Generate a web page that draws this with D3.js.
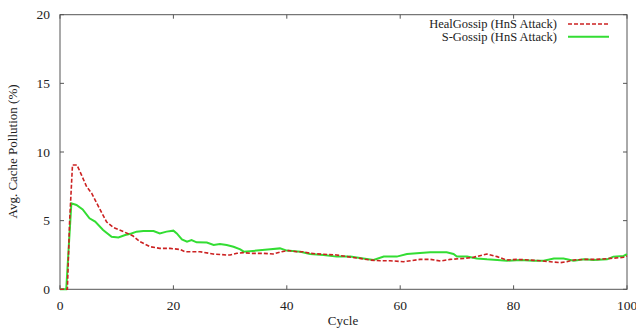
<!DOCTYPE html>
<html><head><meta charset="utf-8">
<script src="https://cdn.jsdelivr.net/npm/d3@7"></script>
<style>body{margin:0;background:#fff}svg{display:block}</style>
</head><body>
<svg id="c" width="636" height="328"></svg>
<script>
const xTicks = [0,20,40,60,80,100];
const yTicks = [0,5,10,15,20];
const seriesNames = ["HealGossip (HnS Attack)", "S-Gossip (HnS Attack)"];
const healCycles = [0,1.3,1.7,2.2,3,3.8,4.7,5.6,6.2,7.1,8.2,9.4,11.2,12.9,14.1,15.9,17.6,19.4,21.2,22,24.7,27,29.4,30,31.2,32.4,33.5,35.9,37.6,39.1,40.3,41.8,42.9,44.1,46.5,48.8,50.6,52.9,54.7,56.5,58.2,60.6,63.5,65.3,67.1,68.8,71.2,72.9,75.3,77.1,78.8,80.6,82.9,84.7,86.5,88.2,89.4,90.6,92.4,94.7,97.1,99.4,100];
const healValues = [0,0,5,9.05,9.05,8.32,7.47,6.99,6.5,5.78,4.92,4.51,4.2,3.88,3.47,3.1,2.98,2.98,2.9,2.74,2.74,2.57,2.5,2.5,2.62,2.67,2.62,2.62,2.57,2.74,2.82,2.74,2.74,2.62,2.55,2.5,2.38,2.25,2.13,2.08,2.08,2.01,2.18,2.18,2.06,2.18,2.25,2.33,2.57,2.38,2.13,2.18,2.13,2.08,2.01,1.94,2.01,2.13,2.18,2.18,2.25,2.33,2.43];
const sCycles = [0,1.1,2,2.9,4.0,5.2,6.2,7.6,9.1,10.3,11.5,12.6,13.5,14.7,16.5,17.6,18.8,20,20.6,21.5,22.4,23.2,24.1,25.9,27.1,28.2,29.4,30.6,31.8,32.4,34.7,37.1,38.8,40,42.4,44.1,46.5,48.8,51.2,53.5,55.3,57.1,59.4,61.2,63.5,65.3,68.2,69.4,70,71.8,73.5,75.3,77.1,78.8,81.2,83.5,85.3,87.1,88.8,90.6,92.4,94.1,96.5,97.6,99.4,100];
const sValues = [0,0,6.26,6.14,5.82,5.17,4.93,4.32,3.83,3.78,3.95,4.07,4.2,4.25,4.25,4.07,4.2,4.27,4.07,3.64,3.47,3.59,3.42,3.4,3.23,3.3,3.23,3.1,2.91,2.74,2.82,2.91,2.98,2.82,2.74,2.57,2.5,2.38,2.38,2.25,2.13,2.38,2.38,2.57,2.65,2.69,2.69,2.57,2.38,2.38,2.25,2.18,2.13,2.08,2.13,2.08,2.08,2.25,2.25,2.08,2.18,2.13,2.18,2.38,2.43,2.57];

const svg = d3.select("#c");
const L = 60, R = 627, T = 14.7, B = 289.3;
const x = d3.scaleLinear().domain([0,100]).range([L,R]);
const y = d3.scaleLinear().domain([0,20]).range([B,T]);
const FONT = "Liberation Serif";
const frameCol = "#555";
const txtCol = "#222";

svg.append("rect").attr("x",L).attr("y",T).attr("width",R-L).attr("height",B-T)
  .attr("fill","none").attr("stroke",frameCol).attr("stroke-width",1);

const tl = 4;
const g = svg.append("g").attr("stroke",frameCol).attr("stroke-width",1);
xTicks.forEach(t => {
  g.append("line").attr("x1",x(t)).attr("x2",x(t)).attr("y1",B).attr("y2",B-tl);
  g.append("line").attr("x1",x(t)).attr("x2",x(t)).attr("y1",T).attr("y2",T+tl);
});
yTicks.forEach(t => {
  g.append("line").attr("x1",L).attr("x2",L+tl).attr("y1",y(t)).attr("y2",y(t));
  g.append("line").attr("x1",R).attr("x2",R-tl).attr("y1",y(t)).attr("y2",y(t));
});

svg.append("g").selectAll("text").data(xTicks).join("text")
  .attr("x",d=>x(d)).attr("y",309.5).attr("text-anchor","middle")
  .attr("font-family",FONT).attr("font-size",13.5).attr("fill",txtCol).text(d=>d);
svg.append("g").selectAll("text").data(yTicks).join("text")
  .attr("x",50).attr("y",d=>y(d)).attr("dy","0.35em").attr("text-anchor","end")
  .attr("font-family",FONT).attr("font-size",13.5).attr("fill",txtCol).text(d=>d);

svg.append("text").attr("x",343).attr("y",325).attr("text-anchor","middle")
  .attr("font-family",FONT).attr("font-size",13).attr("fill",txtCol).text("Cycle");
svg.append("text").attr("transform","translate(17,151.5) rotate(-90)").attr("text-anchor","middle")
  .attr("font-family",FONT).attr("font-size",13).attr("fill",txtCol).text("Avg. Cache Pollution (%)");

const line = d3.line().x(d=>x(d[0])).y(d=>y(d[1]));
const heal = healCycles.map((c,i)=>[c,healValues[i]]);
const sg = sCycles.map((c,i)=>[c,sValues[i]]);
const colors = ["#cc2222","#33dd33"];
svg.append("path").datum(sg).attr("d",line).attr("fill","none")
  .attr("stroke",colors[1]).attr("stroke-width",2);
svg.append("path").datum(heal).attr("d",line).attr("fill","none")
  .attr("stroke",colors[0]).attr("stroke-width",1.6).attr("stroke-dasharray","4,2");

const ly = [24, 36.7];
seriesNames.forEach((n,i) => {
  svg.append("text").attr("x",557).attr("y",ly[i]).attr("dy","0.35em").attr("text-anchor","end")
    .attr("font-family",FONT).attr("font-size",12.5).attr("fill",txtCol).text(n);
  const ln = svg.append("line").attr("x1",568).attr("x2",609).attr("y1",ly[i]).attr("y2",ly[i])
    .attr("stroke",colors[i]).attr("stroke-width",i===0?1.6:2);
  if (i===0) ln.attr("stroke-dasharray","4,2");
});
</script>
</body></html>
